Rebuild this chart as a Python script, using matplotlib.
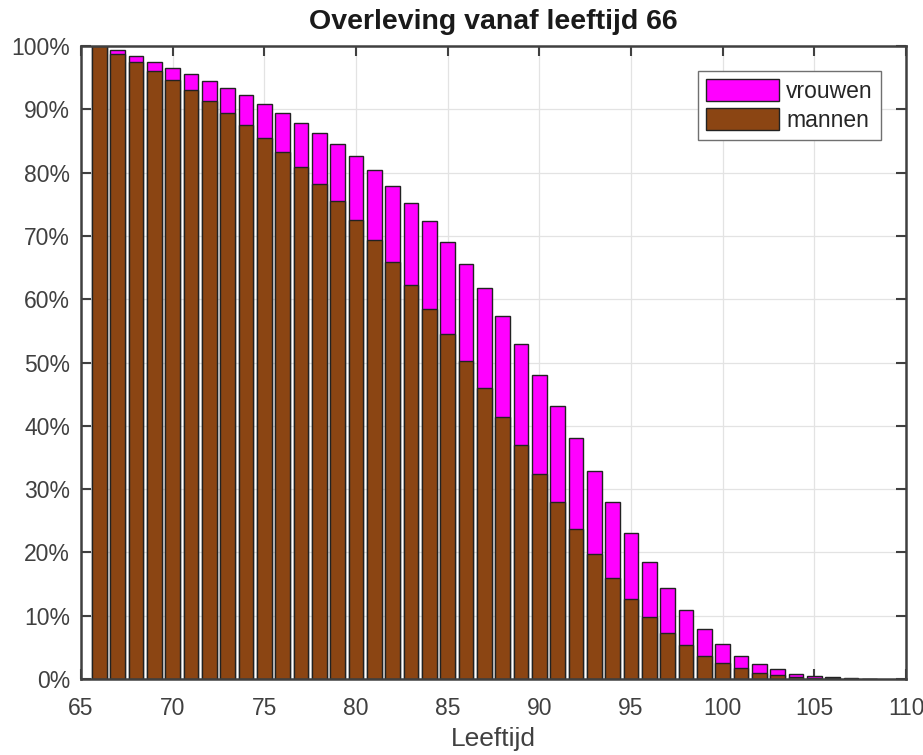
import matplotlib.pyplot as plt
import numpy as np
from matplotlib.ticker import PercentFormatter

# overleving per leeftijd (procent)
leeftijd = list(range(66, 109))
vrouwen = [100.0, 99.3, 98.4, 97.5, 96.6, 95.6, 94.5, 93.3, 92.2, 90.9,
           89.5, 87.9, 86.3, 84.5, 82.6, 80.4, 77.9, 75.2, 72.4, 69.1,
           65.6, 61.7, 57.4, 53.0, 48.1, 43.1, 38.0, 32.9, 27.9, 23.0,
           18.5, 14.4, 10.9, 7.9, 5.6, 3.7, 2.4, 1.5, 0.84, 0.52,
           0.3, 0.15, 0.05]
mannen = [100.0, 98.8, 97.5, 96.1, 94.6, 93.0, 91.3, 89.5, 87.5, 85.5,
          83.2, 80.9, 78.2, 75.5, 72.5, 69.4, 65.9, 62.3, 58.5, 54.5,
          50.3, 45.9, 41.4, 36.9, 32.4, 28.0, 23.7, 19.7, 16.0, 12.7,
          9.8, 7.3, 5.3, 3.7, 2.5, 1.7, 1.0, 0.58, 0.37, 0.2,
          0.1, 0.05, 0.02]

xticks = list(range(65, 111, 5))
yticks = list(range(0, 101, 10))

asgrijs = '#404040'
plt.rcParams['font.family'] = ['Liberation Sans', 'DejaVu Sans']

fig = plt.figure(figsize=(9.23, 7.55), dpi=100)
ax = fig.add_axes([0.0878, 0.1007, 0.8938, 0.8383])

ax.bar(leeftijd, vrouwen, width=0.8, color='#FF00FF', edgecolor='#222222',
       linewidth=1.0, label='vrouwen', zorder=2)
ax.bar(leeftijd, mannen, width=0.8, color='#8B4513', edgecolor='#222222',
       linewidth=1.0, label='mannen', zorder=3)

ax.set_xlim(65, 110)
ax.set_ylim(0, 100)
ax.set_xticks(xticks)
ax.set_yticks(yticks)
ax.yaxis.set_major_formatter(PercentFormatter(decimals=0))

ax.grid(True, color='#e3e3e3', linewidth=0.9, zorder=0)
ax.set_axisbelow(True)
ax.tick_params(direction='in', top=True, right=True, length=7, width=1.5,
               colors=asgrijs, labelsize=16.5, pad=8)
ax.tick_params(axis='x', pad=13)
for s in ax.spines.values():
    s.set_color(asgrijs)
    s.set_linewidth(1.8)
    s.set_zorder(5)

ax.set_title('Overleving vanaf leeftijd 66', fontsize=20.5, fontweight='bold',
             color='#1a1a1a', pad=12)
ax.set_xlabel('Leeftijd', fontsize=19, color=asgrijs, labelpad=5)

leg = ax.legend(loc='upper right', fontsize=16.5, frameon=True, fancybox=False,
                edgecolor='#707070', framealpha=1.0, handlelength=3.2,
                handleheight=1.05, borderaxespad=1.1, labelspacing=0.25,
                borderpad=0.35, handletextpad=0.3)
leg.get_frame().set_linewidth(1.0)
for t in leg.get_texts():
    t.set_color('#262626')

fig.savefig('out.png', dpi=100)
